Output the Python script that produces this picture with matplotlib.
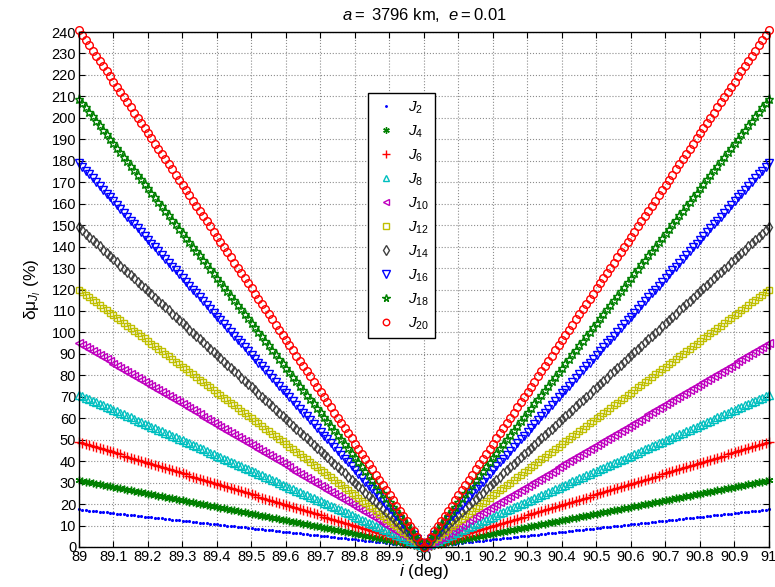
import numpy as np
import matplotlib
matplotlib.use("Agg")
import matplotlib.pyplot as plt

plt.rcParams['font.family'] = ['Liberation Sans', 'DejaVu Sans']
plt.rcParams['mathtext.fontset'] = 'custom'
plt.rcParams['mathtext.rm'] = 'Liberation Sans'
plt.rcParams['mathtext.it'] = 'Liberation Sans:italic'

# inclination grid (deg) and the value of each series at 89 / 91 deg (%)
incl = np.linspace(89, 91, 201)
labels = ['2', '4', '6', '8', '10', '12', '14', '16', '18', '20']
edge_vals = [17.5, 31.0, 49.0, 71.0, 95.0, 120.0, 149.0, 179.0, 209.0, 241.0]

colors = ['b', (0, 0.5, 0), 'r', (0, 0.75, 0.75), (0.75, 0, 0.75),
          (0.75, 0.75, 0), (0.25, 0.25, 0.25), 'b', (0, 0.5, 0), 'r']
markers = ['.', (6, 2, 0), '+', '^', '<', 's', 'd', 'v', '*', 'o']
sizes = [2.5, 5.5, 6.5, 5.5, 5.5, 5, 5.5, 6, 6.5, 5.5]

fig = plt.figure(figsize=(7.75, 5.87), dpi=100)
ax = fig.add_axes([79 / 775, 1 - 547 / 587, 690 / 775, 515 / 587])

for lab, v, c, m, s in zip(labels, edge_vals, colors, markers, sizes):
    y = v * np.abs(incl - 90)
    ax.plot(incl, y, linestyle='none', marker=m, color=c, markersize=s,
            markerfacecolor=c if m == '.' else 'none',
            markeredgewidth=1.0, label=r'$J_{%s}$' % lab, clip_on=False)

ticks_x = np.arange(89, 91.001, 0.1)
ax.set_xlim(89, 91)
ax.set_ylim(0, 240)
ax.set_xticks(ticks_x)
ax.set_xticklabels(['%g' % round(t, 1) for t in ticks_x])
ax.set_yticks(np.arange(0, 241, 10))
ax.tick_params(direction='in', top=True, right=True, labelsize=10.5, length=4, pad=2)
ax.grid(True, linestyle=':', color='0.55', linewidth=0.8)
for sp in ax.spines.values():
    sp.set_linewidth(1.0)

ax.set_xlabel(r'$i$ (deg)', fontsize=12.5, labelpad=-1)
ax.set_ylabel(r'$\mathrm{\delta\mu}_{J_l}$ (%)', fontsize=12.5, labelpad=6)
ax.set_title(r'$a =$ 3796 km,  $e = 0.01$', fontsize=12, pad=9)

leg = ax.legend(loc='upper left', bbox_to_anchor=(368 / 775, 1 - 93 / 587),
                bbox_transform=fig.transFigure, borderaxespad=0, fancybox=False,
                framealpha=1, edgecolor='k', fontsize=11, handlelength=1.6,
                labelspacing=0.5, borderpad=0.4, handletextpad=0.6,
                markerscale=0.85)
leg.get_frame().set_linewidth(1.0)

fig.savefig('out.png', dpi=100)
